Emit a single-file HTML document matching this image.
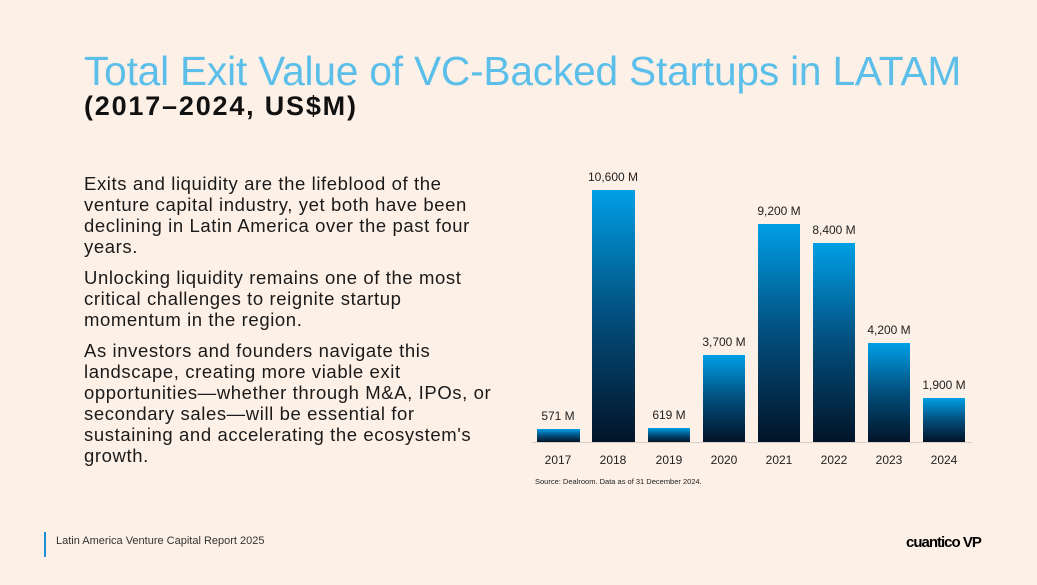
<!DOCTYPE html>
<html><head><style>
body{margin:0;width:1037px;height:585px;background:#fdf0e6;font-family:"Liberation Sans",sans-serif;position:relative;overflow:hidden}
.t{position:absolute;left:84px;top:48px;font-size:40.7px;color:#5bbfea;font-weight:300;letter-spacing:-0.2px;white-space:nowrap}
.s{position:absolute;left:84px;top:91px;font-size:27px;font-weight:bold;color:#111;white-space:nowrap;letter-spacing:1.8px}
.b{position:absolute;left:84px;top:173px;font-size:18.5px;line-height:21px;color:#1a1a1a;white-space:nowrap;letter-spacing:0.6px}
.b p{margin:0 0 10px 0}
.f{position:absolute;left:56px;top:535px;font-size:11px;color:#333}
.bar{position:absolute;left:44px;top:532px;width:2px;height:25px;background:#1a8fd6}
.logo{position:absolute;left:906px;top:534px;font-size:15px;font-weight:900;color:#000;letter-spacing:-1px}
</style></head><body>
<div class="t">Total Exit Value of VC-Backed Startups in LATAM</div>
<div class="s">(2017–2024, US$M)</div>
<div class="b">
<p>Exits and liquidity are the lifeblood of the<br>venture capital industry, yet both have been<br>declining in Latin America over the past four<br>years.</p>
<p>Unlocking liquidity remains one of the most<br>critical challenges to reignite startup<br>momentum in the region.</p>
<p>As investors and founders navigate this<br>landscape, creating more viable exit<br>opportunities—whether through M&amp;A, IPOs, or<br>secondary sales—will be essential for<br>sustaining and accelerating the ecosystem's<br>growth.</p>
</div>
<svg width="1037" height="585" style="position:absolute;left:0;top:0">
<defs><linearGradient id="g" x1="0" y1="0" x2="0" y2="1"><stop offset="0" stop-color="#009fe6"/><stop offset="0.5" stop-color="#024e7c"/><stop offset="1" stop-color="#021428"/></linearGradient></defs>
<g fill="url(#g)">
<rect x="537" y="429" width="43" height="13"/>
<rect x="592" y="190" width="43" height="252"/>
<rect x="648" y="428" width="42" height="14"/>
<rect x="703" y="355" width="42" height="87"/>
<rect x="758" y="224" width="42" height="218"/>
<rect x="813" y="243" width="42" height="199"/>
<rect x="868" y="343" width="42" height="99"/>
<rect x="923" y="398" width="42" height="44"/>
</g>
<line x1="532" y1="442.5" x2="972" y2="442.5" stroke="#d8d0c8" stroke-width="1"/>
<g font-size="12" fill="#222" text-anchor="middle" font-family="Liberation Sans">
<text x="558" y="420">571 M</text><text x="613" y="181">10,600 M</text><text x="669" y="419">619 M</text><text x="724" y="346">3,700 M</text><text x="779" y="215">9,200 M</text><text x="834" y="234">8,400 M</text><text x="889" y="334">4,200 M</text><text x="944" y="389">1,900 M</text>
<text x="558" y="464">2017</text><text x="613" y="464">2018</text><text x="669" y="464">2019</text><text x="724" y="464">2020</text><text x="779" y="464">2021</text><text x="834" y="464">2022</text><text x="889" y="464">2023</text><text x="944" y="464">2024</text>
</g>
<text x="535" y="484" font-size="7.5" fill="#222" font-family="Liberation Sans">Source: Dealroom. Data as of 31 December 2024.</text>
</svg>
<div class="bar"></div>
<div class="f">Latin America Venture Capital Report 2025</div>
<div class="logo">cuantico VP</div>
</body></html>
